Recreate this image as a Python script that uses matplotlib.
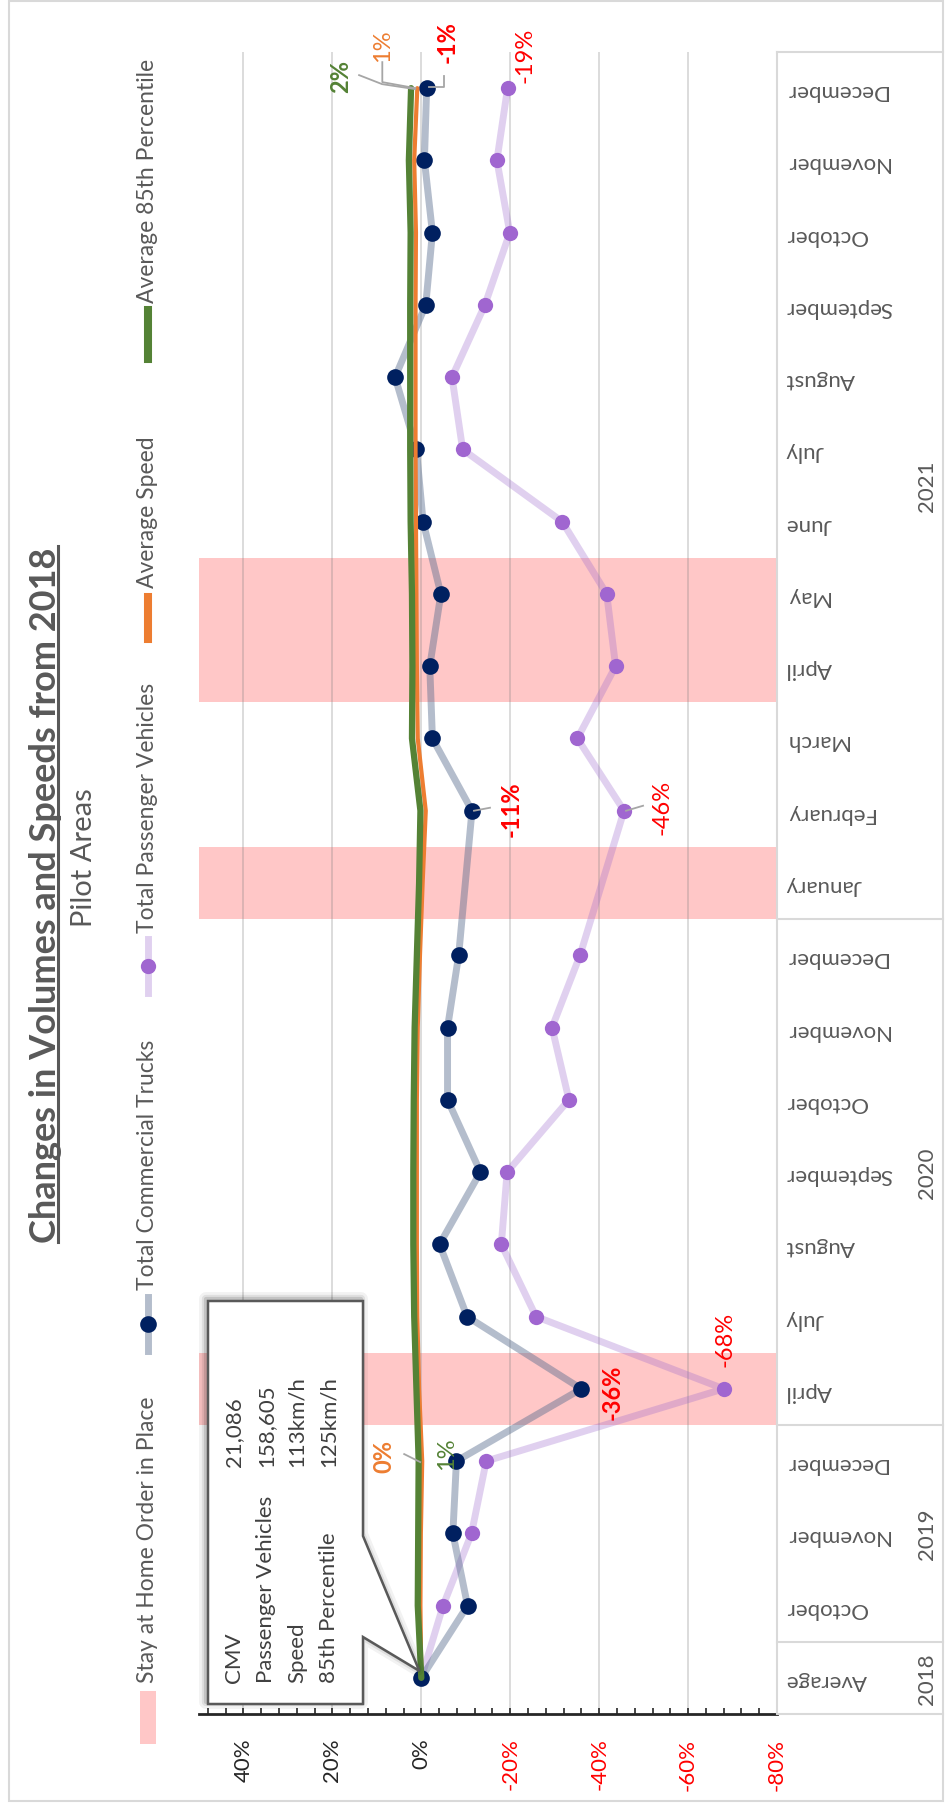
import numpy as np
import matplotlib
matplotlib.use('Agg')
import matplotlib.pyplot as plt
from matplotlib.transforms import blended_transform_factory
from matplotlib.patches import Rectangle, Polygon

# ---------------- data ----------------
months = ['Average', 'October', 'November', 'December',
          'April', 'July', 'August', 'September', 'October', 'November', 'December',
          'January', 'February', 'March', 'April', 'May', 'June', 'July', 'August',
          'September', 'October', 'November', 'December']
years = ['2018', '2019', '2019', '2019',
         '2020', '2020', '2020', '2020', '2020', '2020', '2020',
         '2021', '2021', '2021', '2021', '2021', '2021', '2021', '2021',
         '2021', '2021', '2021', '2021']
stay_home = [0, 0, 0, 0, 1, 0, 0, 0, 0, 0, 0, 1, 0, 0, 1, 1, 0, 0, 0, 0, 0, 0, 0]

trucks = [0, -10.4, -7.1, -7.9, -36, -10.3, -4.1, -13.3, -5.9, -5.9, -8.4,
          np.nan, -11.4, -2.5, -1.9, -4.4, -0.4, 1.1, 5.9, -1.0, -2.5, -0.7, -1.2]
passenger = [0, -4.9, -11.3, -14.6, -68, -25.8, -18.0, -19.3, -33.2, -29.4, -35.7,
             np.nan, -45.6, -35.1, -43.7, -41.7, -31.7, -9.3, -6.9, -14.3, -19.9, -17.0, -19.4]
avg_speed = [0, 0.2, 0.1, -0.2, 0.5, 0.9, 1.0, 1.0, 1.0, 0.8, 0.3,
             -0.3, -1.0, 0.8, 1.0, 1.1, 1.2, 1.3, 1.3, 1.3, 1.2, 1.6, 0.9]
p85 = [0, 0.8, 0.7, 0.6, 1.1, 1.6, 1.8, 1.8, 1.7, 1.5, 1.0,
       0.5, 0.2, 2.1, 2.0, 2.1, 2.4, 2.5, 2.5, 2.5, 2.4, 2.8, 2.3]

x_ticks = [0.4, 0.2, 0.0, -0.2, -0.4, -0.6, -0.8]
x_tick_labels = ['40%', '20%', '0%', '-20%', '-40%', '-60%', '-80%']

title = 'Changes in Volumes and Speeds from 2018'
subtitle = 'Pilot Areas'
legend_labels = ['Stay at Home Order in Place', 'Total Commercial Trucks',
                 'Total Passenger Vehicles', 'Average Speed', 'Average 85th Percentile']
callout_labels = ['CMV', 'Passenger Vehicles', 'Speed', '85th Percentile']
callout_values = ['21,086', '158,605', '113km/h', '125km/h']

# ---------------- style ----------------
plt.rcParams['font.family'] = ['Lato', 'DejaVu Sans']
C_TRUCK_LINE = '#5A6E8F'
C_TRUCK_MK = '#002060'
C_PASS_LINE = '#9966CC'
C_PASS_MK = '#A066D0'
C_ORANGE = '#ED7D31'
C_GREEN = '#548235'
C_PINK = '#FFC7C7'
C_RED = '#FF0000'
C_TEXT = '#595959'
C_GRID = '#D9D9D9'
C_LEADER = '#A6A6A6'
FS = 16

W, H = 947, 1808
fig = plt.figure(figsize=(W / 100, H / 100), dpi=100)
fig.patch.set_facecolor('white')

L, R, T, B = 199, 777, 53, 1715
ax = fig.add_axes([L / W, 1 - B / H, (R - L) / W, (B - T) / H])
ov = fig.add_axes([0, 0, 1, 1], zorder=5)
ov.set_xlim(0, W)
ov.set_ylim(H, 0)
ov.axis('off')
ov.patch.set_alpha(0)

n = len(months)
idx = np.arange(n)
ax.set_xlim(0.5, -0.8)
ax.set_ylim(-0.5, n - 0.5)
ax.set_facecolor('white')

# stay-at-home bands
for i, s in enumerate(stay_home):
    if s:
        ax.axhspan(i - 0.5, i + 0.5, color=C_PINK, lw=0, zorder=0.2)

ax.set_axisbelow(True)
ax.set_xticks(x_ticks)
ax.set_xticklabels(x_tick_labels, rotation=90, fontsize=FS)
for lab, v in zip(ax.get_xticklabels(), x_ticks):
    lab.set_color(C_RED if v < 0 else '#262626')
ax.set_xticks(np.arange(-0.8, 0.49, 0.04), minor=True)
ax.tick_params(axis='x', which='both', direction='in', length=4, width=1.2,
               color='#262626', pad=17)
ax.grid(axis='x', which='major', color='#808080', alpha=0.3, lw=1.3)

ax.set_yticks(idx)
ax.set_yticklabels(months, rotation=180, fontsize=FS, color=C_TEXT)
ax.yaxis.tick_right()
ax.tick_params(axis='y', length=0, pad=6)
for sp in ['left', 'top']:
    ax.spines[sp].set_visible(False)
ax.spines['right'].set_color(C_GRID)
ax.spines['right'].set_linewidth(1.5)
ax.spines['bottom'].set_color('#262626')
ax.spines['bottom'].set_linewidth(2)


def draw_series(vals, line_kw, marker_kw=None):
    v = np.array(vals, float) / 100
    m = ~np.isnan(v)
    ax.plot(v[m], idx[m], solid_capstyle='round', solid_joinstyle='round', **line_kw)
    if marker_kw:
        ax.plot(v[m], idx[m], ls='none', marker='o', mew=0, **marker_kw)


draw_series(passenger, dict(color=C_PASS_LINE, alpha=0.3, lw=5, zorder=2),
            dict(color=C_PASS_MK, ms=11, zorder=2.5))
draw_series(trucks, dict(color=C_TRUCK_LINE, alpha=0.45, lw=5, zorder=3),
            dict(color=C_TRUCK_MK, ms=12, zorder=3.5))
draw_series(avg_speed, dict(color=C_ORANGE, lw=3, zorder=4))
draw_series(p85, dict(color=C_GREEN, lw=4.5, zorder=5))

# ---------------- category box (years) ----------------
btf = blended_transform_factory(ov.transData, ax.transData)
bounds = [-0.5] + [i - 0.5 for i in range(1, n) if years[i] != years[i - 1]] + [n - 0.5]
for b in bounds:
    ov.plot([R, 943], [b, b], transform=btf, color=C_GRID, lw=1.5, zorder=1)
for k in range(len(bounds) - 1):
    c = (bounds[k] + bounds[k + 1]) / 2
    yr = years[int(bounds[k] + 0.5)]
    ov.text(927, c, yr, transform=btf, rotation=90, ha='center', va='center',
            fontsize=FS, color=C_TEXT)

# outer border
ov.add_patch(Rectangle((9, 2), 934, 1800, fill=False, ec=C_GRID, lw=1.5, zorder=0))


# ---------------- data labels ----------------
def to_ov(xv, yv):
    return ov.transData.inverted().transform(ax.transData.transform((xv, yv)))


series = {'trucks': trucks, 'passenger': passenger, 'avg': avg_speed, 'p85': p85}
labels = [
    ('passenger', 4, '-68%', C_RED, 'normal', 1, -50, None),
    ('trucks', 4, '-36%', C_RED, 'bold', 31, 2, None),
    ('avg', 3, '0%', C_ORANGE, 'bold', -38, -6, [(-18, -7), (-2, 1)]),
    ('p85', 3, '1%', C_GREEN, 'normal', 28, -8, None),
    ('trucks', 12, '-11%', C_RED, 'bold', 39, -3, [(2, 0), (18, -3)]),
    ('passenger', 12, '-46%', C_RED, 'normal', 38, -4, [(2, 0), (19, -5)]),
    ('trucks', 22, '-1%', C_RED, 'bold', 20, -47, [(2, -1), (17, -1), (17, -12)]),
    ('passenger', 22, '-19%', C_RED, 'normal', 17, -34, None),
    ('avg', 22, '1%', C_ORANGE, 'normal', -35, -43, [(-35, -26), (-35, -6), (-2, 0)]),
    ('p85', 22, '2%', C_GREEN, 'bold', -70, -13, [(-52, -13), (-29, -4), (4, 1)]),
]
for key, i, txt, col, wt, dx, dy, leader in labels:
    px, py = to_ov(series[key][i] / 100, i)
    if leader:
        ov.plot([px + a for a, b in leader], [py + b for a, b in leader],
                color=C_LEADER, lw=1.3, zorder=2)
    ov.text(px + dx, py + dy, txt, rotation=90, ha='center', va='center',
            color=col, fontweight=wt, fontsize=17, zorder=3)

# ---------------- callout ----------------
tipx, tipy = to_ov(0, 0)
verts = [(208, 1302), (363, 1302), (363, 1537), (tipx - 2, tipy - 7),
         (363, 1638), (363, 1705), (208, 1705)]
for lw_, al in [(10, 0.05), (6, 0.08), (3, 0.12)]:
    ov.add_patch(Polygon([(x - 2, y - 2) for x, y in verts], closed=True, fill=False,
                         ec='#000000', lw=lw_, alpha=al, zorder=6, joinstyle='round'))
ov.add_patch(Polygon(verts, closed=True, fc='white', ec='#595959', lw=1.8, zorder=7))
col_x = [234, 266, 297, 329]
for cx, lab, val in zip(col_x, callout_labels, callout_values):
    ov.text(cx, 1683, lab, rotation=90, rotation_mode='anchor', ha='left', va='center',
            fontsize=FS, color='#404040', zorder=8)
    ov.text(cx, 1467, val, rotation=90, rotation_mode='anchor', ha='left', va='center',
            fontsize=FS, color='#404040', zorder=8)

# ---------------- legend ----------------
LX = 148
ov.add_patch(Rectangle((LX - 8, 1692), 16, 53, color=C_PINK, lw=0, zorder=3))
ov.plot([LX, LX], [1298, 1352], color=C_TRUCK_LINE, alpha=0.45, lw=5, zorder=3)
ov.plot([LX], [1325], 'o', color=C_TRUCK_MK, ms=12, mew=0, zorder=4)
ov.plot([LX, LX], [940, 994], color=C_PASS_LINE, alpha=0.3, lw=5, zorder=3)
ov.plot([LX], [967], 'o', color=C_PASS_MK, ms=11, mew=0, zorder=4)
ov.plot([LX, LX], [598, 640], color=C_ORANGE, lw=5.8, zorder=3)
ov.plot([LX, LX], [311, 360], color=C_GREEN, lw=5.8, zorder=3)
for lab, y0 in zip(legend_labels, [1683, 1290, 933, 588, 303]):
    ov.text(LX, y0, lab, rotation=90, rotation_mode='anchor', ha='left', va='center',
            fontsize=16.5, color=C_TEXT, zorder=4)

# ---------------- titles ----------------
t = ov.text(46, 895, title, rotation=90, ha='center', va='center', fontsize=26,
            fontweight='bold', color=C_TEXT)
ov.text(84, 858, subtitle, rotation=90, ha='center', va='center', fontsize=21,
        color=C_TEXT)
fig.canvas.draw()
bb = t.get_window_extent().transformed(ov.transData.inverted())
xs = sorted([bb.x0, bb.x1])
ys = sorted([bb.y0, bb.y1])
ov.plot([xs[1] - 5, xs[1] - 5], [ys[0], ys[1]], color=C_TEXT, lw=2.2)

fig.savefig('out.png', dpi=100, facecolor='white')
